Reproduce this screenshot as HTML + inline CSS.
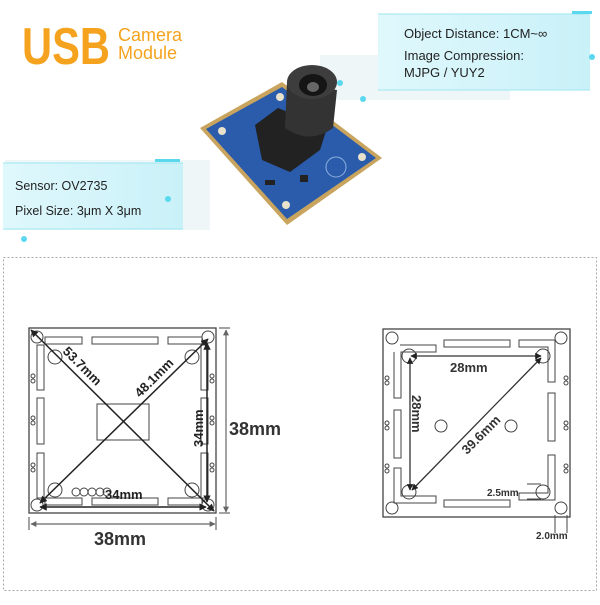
<!DOCTYPE html>
<html><head><meta charset="utf-8"><style>
body{margin:0;width:600px;height:600px;background:#fff;overflow:hidden;font-family:"Liberation Sans",sans-serif}
</style></head><body>
<svg width="600" height="600" viewBox="0 0 600 600" xmlns="http://www.w3.org/2000/svg" font-family="Liberation Sans, sans-serif">
<defs>
<linearGradient id="cy" x1="0" x2="1"><stop offset="0" stop-color="#dff8fc"/><stop offset="1" stop-color="#c9f1f8"/></linearGradient>
<marker id="a" viewBox="0 0 10 10" refX="9" refY="5" markerWidth="5" markerHeight="5" orient="auto-start-reverse"><path d="M0,0L10,5L0,10z" fill="#222"/></marker>
<marker id="g" viewBox="0 0 10 10" refX="9" refY="5" markerWidth="5" markerHeight="5" orient="auto-start-reverse"><path d="M0,0L10,5L0,10z" fill="#666"/></marker>
</defs>
<!-- title -->
<text x="22" y="64" font-size="52" font-weight="bold" fill="#f5a31e" textLength="88" lengthAdjust="spacingAndGlyphs">USB</text>
<text x="118" y="41" font-size="18" fill="#f5a31e">Camera</text>
<text x="118" y="59" font-size="18" fill="#f5a31e">Module</text>
<!-- info boxes -->
<rect x="320" y="55" width="190" height="45" fill="#eef6f8"/>
<rect x="378" y="14" width="212" height="76" fill="url(#cy)"/>
<line x1="378" y1="14" x2="590" y2="14" stroke="#9fe6f2"/>
<line x1="378" y1="90" x2="590" y2="90" stroke="#9fe6f2"/>
<rect x="572" y="11" width="20" height="3" fill="#5ad8ee"/><circle cx="592" cy="57" r="3" fill="#5ad8ee"/>
<circle cx="340" cy="83" r="3" fill="#5ad8ee"/><circle cx="363" cy="99" r="3" fill="#5ad8ee"/>
<text x="404" y="38" font-size="13" fill="#222">Object Distance: 1CM~∞</text>
<text x="404" y="60" font-size="13" fill="#222">Image Compression:</text>
<text x="404" y="77" font-size="13" fill="#222">MJPG / YUY2</text>
<rect x="5" y="160" width="205" height="70" fill="#eef6f8"/>
<rect x="3" y="163" width="180" height="66" fill="url(#cy)"/>
<line x1="3" y1="163" x2="183" y2="163" stroke="#9fe6f2"/>
<line x1="3" y1="229" x2="183" y2="229" stroke="#9fe6f2"/>
<rect x="155" y="159" width="25" height="3" fill="#5ad8ee"/><circle cx="168" cy="199" r="3" fill="#5ad8ee"/><circle cx="24" cy="239" r="3" fill="#5ad8ee"/>
<text x="15" y="190" font-size="12.5" fill="#222">Sensor: OV2735</text>
<text x="15" y="215" font-size="12.5" fill="#222">Pixel Size: 3μm X 3μm</text>
<!-- camera board -->
<polygon points="200,128 282,82 382,158 287,225" fill="#c9a45e"/>
<polygon points="206,129 282,87 376,158 287,219" fill="#2a5cab"/>
<circle cx="222" cy="131" r="4" fill="#e8e2cc"/><circle cx="280" cy="97" r="4" fill="#e8e2cc"/>
<circle cx="362" cy="157" r="4" fill="#e8e2cc"/><circle cx="286" cy="205" r="4" fill="#e8e2cc"/>
<circle cx="336" cy="167" r="10" fill="none" stroke="#8fb0e0"/>
<rect x="300" y="175" width="8" height="7" fill="#222"/><rect x="265" y="180" width="10" height="5" fill="#222"/>
<polygon points="255,125 278,108 327,128 320,150 290,172 262,160" fill="#222"/>
<path d="M287,82 L337,90 L333,128 Q310,145 285,128 Z" fill="#333"/>
<ellipse cx="312" cy="82" rx="25" ry="17" fill="#3d3d3d"/>
<ellipse cx="313" cy="85" rx="14" ry="11" fill="#151515"/>
<ellipse cx="313" cy="87" rx="6" ry="5" fill="#666"/>
<!-- dashed frame -->
<rect x="3.5" y="257.5" width="593" height="333" fill="none" stroke="#aaa" stroke-dasharray="2,2"/>
<!-- left board -->
<g stroke="#444" stroke-width="1.3" fill="none">
<rect x="29" y="328" width="187" height="185"/>
<g stroke-width="1">
<rect x="45" y="337" width="37" height="7"/><rect x="92" y="337" width="66" height="7"/><rect x="168" y="337" width="34" height="7"/>
<rect x="45" y="498" width="37" height="7"/><rect x="92" y="498" width="66" height="7"/><rect x="168" y="498" width="34" height="7"/>
<rect x="37" y="345" width="7" height="45"/><rect x="37" y="398" width="7" height="46"/><rect x="37" y="453" width="7" height="45"/>
<rect x="201" y="345" width="7" height="45"/><rect x="201" y="398" width="7" height="46"/><rect x="201" y="453" width="7" height="45"/>
<circle cx="37" cy="337" r="6"/><circle cx="208" cy="337" r="6"/><circle cx="37" cy="505" r="6"/><circle cx="208" cy="505" r="6"/>
<circle cx="55" cy="357" r="7"/><circle cx="192" cy="357" r="7"/><circle cx="55" cy="490" r="7"/><circle cx="192" cy="490" r="7"/>
<circle cx="33" cy="376" r="2"/><circle cx="33" cy="381" r="2"/><circle cx="33" cy="418" r="2"/><circle cx="33" cy="423" r="2"/><circle cx="33" cy="465" r="2"/><circle cx="33" cy="470" r="2"/>
<circle cx="212" cy="376" r="2"/><circle cx="212" cy="381" r="2"/><circle cx="212" cy="418" r="2"/><circle cx="212" cy="423" r="2"/><circle cx="212" cy="465" r="2"/><circle cx="212" cy="470" r="2"/>
<circle cx="76" cy="492" r="4"/><circle cx="84" cy="492" r="4"/><circle cx="92" cy="492" r="4"/><circle cx="100" cy="492" r="4"/><circle cx="107" cy="492" r="4"/>
<rect x="97" y="404" width="52" height="36"/>
</g>
</g>
<g stroke="#222" stroke-width="1.5">
<line x1="31" y1="330" x2="214" y2="511" marker-start="url(#a)" marker-end="url(#a)"/>
<line x1="40" y1="503" x2="208" y2="339" marker-start="url(#a)" marker-end="url(#a)"/>
<line x1="207" y1="343" x2="207" y2="502" marker-start="url(#a)" marker-end="url(#a)"/>
<line x1="40" y1="507" x2="206" y2="507" marker-start="url(#a)" marker-end="url(#a)"/>
</g>
<g stroke="#666" stroke-width="1.2">
<line x1="31" y1="524" x2="215" y2="524" marker-start="url(#g)" marker-end="url(#g)"/>
<line x1="29" y1="517" x2="29" y2="530"/><line x1="216" y1="517" x2="216" y2="530"/>
<line x1="226" y1="330" x2="226" y2="512" marker-start="url(#g)" marker-end="url(#g)"/>
<line x1="219" y1="328" x2="230" y2="328"/><line x1="219" y1="513" x2="230" y2="513"/>
</g>
<g font-weight="bold" fill="#333">
<text x="94" y="545" font-size="18">38mm</text>
<text x="229" y="435" font-size="18">38mm</text>
<text x="105" y="499" font-size="13" fill="#222">34mm</text>
<text font-size="13" fill="#222" transform="translate(62,352) rotate(45)">53.7mm</text>
<text font-size="13" fill="#222" transform="translate(140,398) rotate(-45)">48.1mm</text>
<text font-size="13" fill="#222" transform="translate(203,447) rotate(-90)">34mm</text>
</g>
<!-- right board -->
<g stroke="#444" stroke-width="1.3" fill="none">
<rect x="383" y="329" width="187" height="188"/>
<g stroke-width="1">
<path d="M400,345 H436 V352 H401 V398 H394 V352"/>
<rect x="444" y="340" width="66" height="7"/>
<path d="M519,340 H555 V382 H548 V347 H519 Z"/>
<rect x="394" y="410" width="7" height="48"/><rect x="548" y="393" width="7" height="48"/>
<path d="M394,468 V503 H436 V496 H401 V468 Z"/>
<rect x="444" y="500" width="66" height="7"/>
<path d="M519,500 H555 V455 H548 V493 H519 Z"/>
<circle cx="392" cy="338" r="6"/><circle cx="561" cy="338" r="6"/><circle cx="392" cy="508" r="6"/><circle cx="561" cy="508" r="6"/>
<circle cx="409" cy="356" r="7"/><circle cx="543" cy="356" r="7"/><circle cx="409" cy="492" r="7"/><circle cx="543" cy="492" r="7"/>
<circle cx="441" cy="426" r="6"/><circle cx="511" cy="426" r="6"/>
<circle cx="387" cy="378" r="2"/><circle cx="387" cy="383" r="2"/><circle cx="387" cy="423" r="2"/><circle cx="387" cy="428" r="2"/><circle cx="387" cy="466" r="2"/><circle cx="387" cy="471" r="2"/>
<circle cx="566" cy="378" r="2"/><circle cx="566" cy="383" r="2"/><circle cx="566" cy="423" r="2"/><circle cx="566" cy="428" r="2"/><circle cx="566" cy="466" r="2"/><circle cx="566" cy="471" r="2"/>
<line x1="527" y1="484" x2="541" y2="484"/><line x1="527" y1="499" x2="541" y2="499"/>
<line x1="555" y1="515" x2="555" y2="533"/><line x1="567" y1="515" x2="567" y2="533"/>
</g>
</g>
<g stroke="#333" stroke-width="1.3">
<line x1="411" y1="356" x2="541" y2="356" marker-start="url(#a)" marker-end="url(#a)"/>
<line x1="410" y1="358" x2="410" y2="490" marker-start="url(#a)" marker-end="url(#a)"/>
<line x1="412" y1="490" x2="541" y2="358" marker-start="url(#a)" marker-end="url(#a)"/>
</g>
<g font-weight="bold" fill="#333">
<text x="450" y="372" font-size="13">28mm</text>
<text font-size="13" transform="translate(412,395) rotate(90)">28mm</text>
<text font-size="13" transform="translate(467,455) rotate(-45)">39.6mm</text>
<text x="487" y="496" font-size="10">2.5mm</text>
<text x="536" y="539" font-size="10">2.0mm</text>
</g>
</svg>
</body></html>
